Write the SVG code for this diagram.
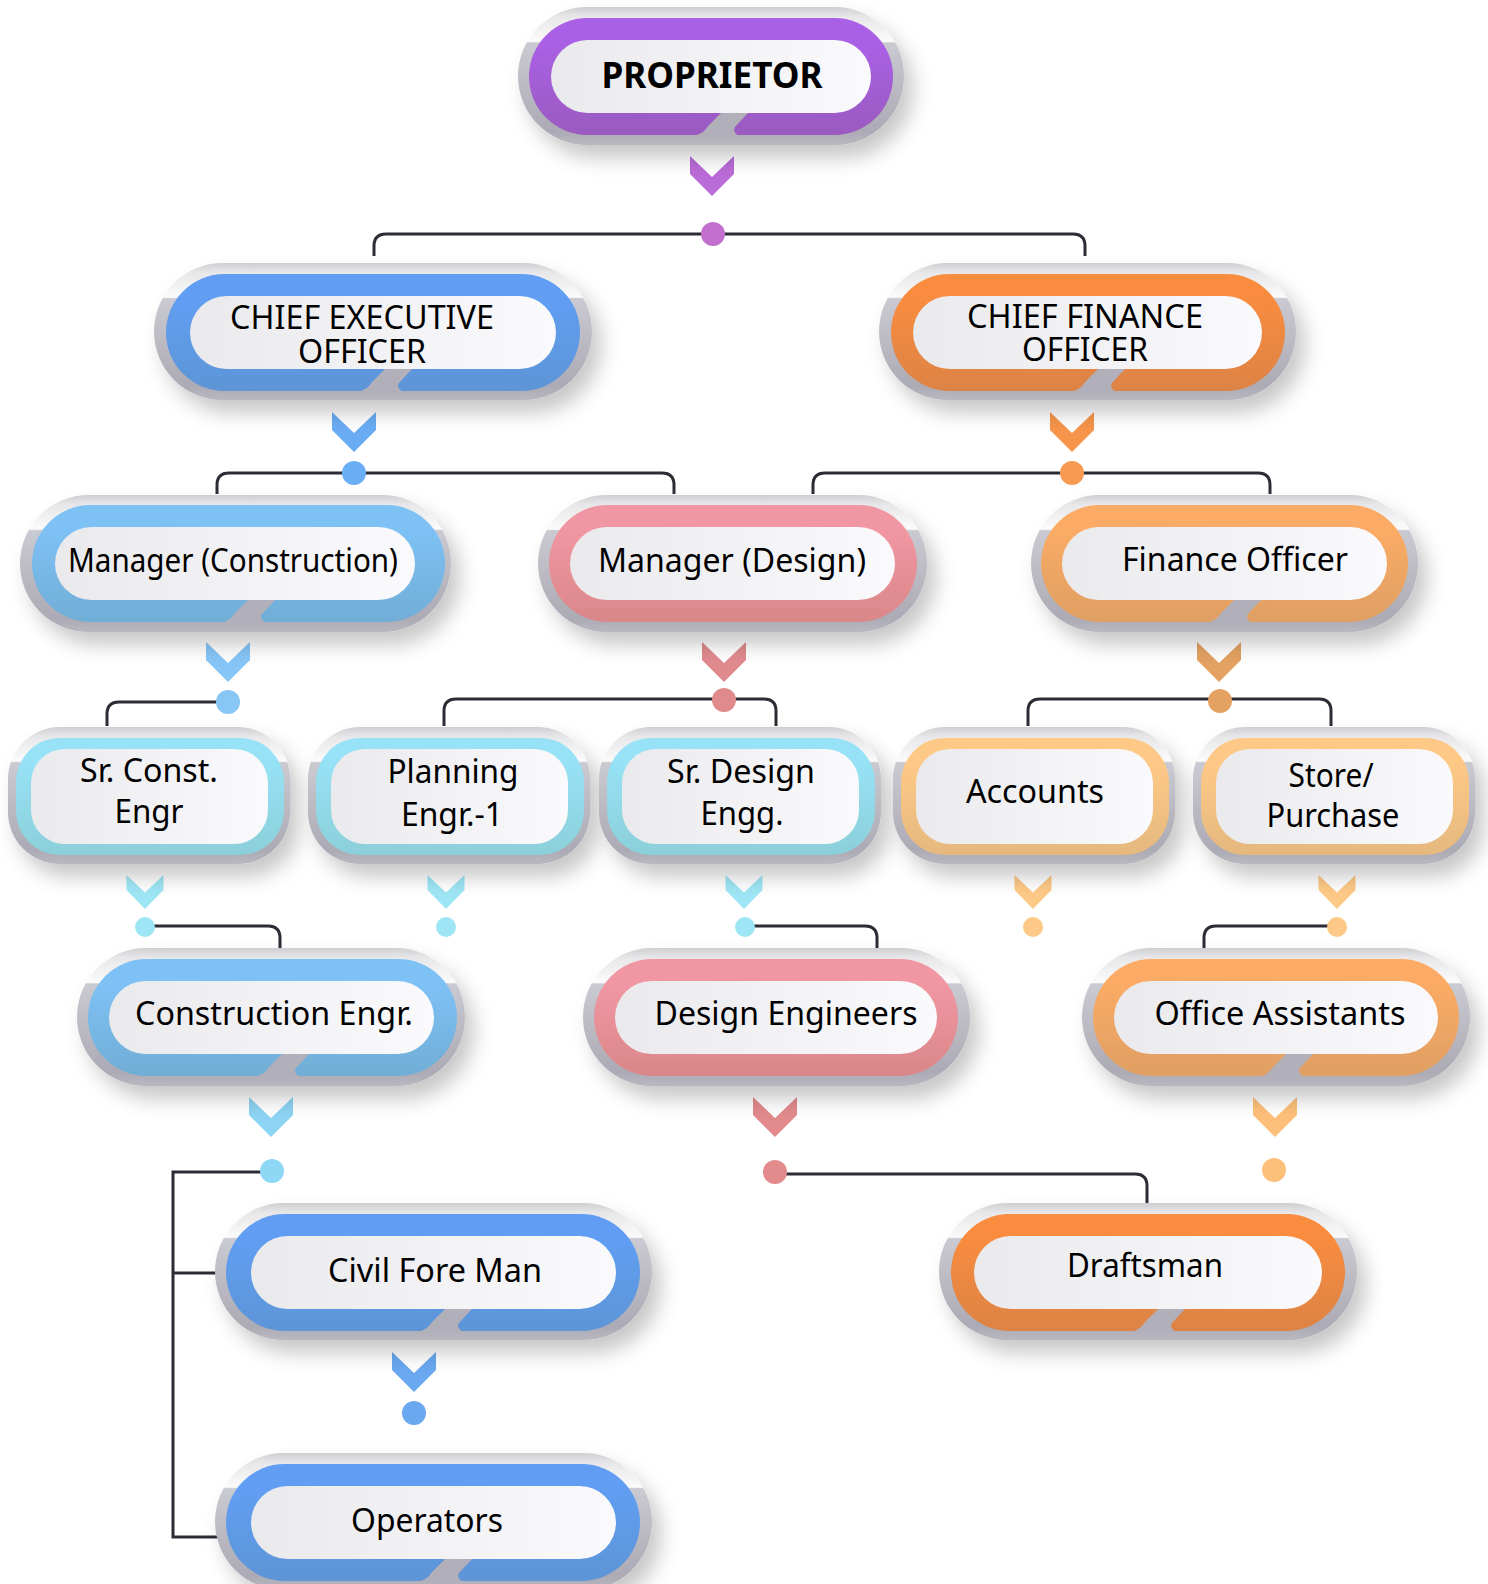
<svg xmlns="http://www.w3.org/2000/svg" xmlns:xlink="http://www.w3.org/1999/xlink" width="1488" height="1584" viewBox="0 0 1488 1584">
<defs>
<style>
.g{fill:url(#gGray);filter:url(#sh)}
.w{fill:url(#gW)}
.t{font-family:'Noto Sans','Open Sans','DejaVu Sans',sans-serif;font-size:33px;fill:#000;text-anchor:middle}
.t4{font-size:32px}
.b{font-weight:bold;font-size:35px}
.ln{fill:none;stroke:#2c2c36;stroke-width:3}
.nt{fill:#b1afb9}
</style>
<filter id="sh" x="-20%" y="-30%" width="145%" height="175%">
<feDropShadow dx="9" dy="13" stdDeviation="10" flood-color="#000" flood-opacity="0.22"/>
</filter>
<linearGradient id="gGray" x1="0" y1="0" x2="0" y2="1">
<stop offset="0" stop-color="#cfcfd2"/>
<stop offset="0.07" stop-color="#e7e7e9"/>
<stop offset="0.25" stop-color="#fbfbfb"/>
<stop offset="0.26" stop-color="#cacad2"/>
<stop offset="0.9" stop-color="#acaab4"/>
<stop offset="1" stop-color="#b9b7c0"/>
</linearGradient>
<linearGradient id="gW" x1="0" y1="0" x2="1" y2="0">
<stop offset="0" stop-color="#eaeaed"/>
<stop offset="1" stop-color="#fafafc"/>
</linearGradient>
<linearGradient id="cPurple" x1="0" y1="0" x2="0" y2="1"><stop offset="0.2" stop-color="#aa60e6"/><stop offset="1" stop-color="#9a5abf"/></linearGradient>
<linearGradient id="cBlue" x1="0" y1="0" x2="0" y2="1"><stop offset="0.2" stop-color="#619ef3"/><stop offset="1" stop-color="#5d95d6"/></linearGradient>
<linearGradient id="cOrange" x1="0" y1="0" x2="0" y2="1"><stop offset="0.2" stop-color="#f98c3f"/><stop offset="1" stop-color="#dc8345"/></linearGradient>
<linearGradient id="cLBlue" x1="0" y1="0" x2="0" y2="1"><stop offset="0.2" stop-color="#7ec1f5"/><stop offset="1" stop-color="#71aed6"/></linearGradient>
<linearGradient id="cPink" x1="0" y1="0" x2="0" y2="1"><stop offset="0.2" stop-color="#f197a3"/><stop offset="1" stop-color="#da8789"/></linearGradient>
<linearGradient id="cLOrange" x1="0" y1="0" x2="0" y2="1"><stop offset="0.2" stop-color="#fbab65"/><stop offset="1" stop-color="#df9f63"/></linearGradient>
<linearGradient id="cCyan" x1="0" y1="0" x2="0" y2="1"><stop offset="0.2" stop-color="#97e2f6"/><stop offset="1" stop-color="#8bcfd9"/></linearGradient>
<linearGradient id="cPeach" x1="0" y1="0" x2="0" y2="1"><stop offset="0.2" stop-color="#fec987"/><stop offset="1" stop-color="#e5b87e"/></linearGradient>
<path id="notch" d="M0,0 L27,0 L14,14 Q11,18 17,22.5 L-26,22.5 Q-18,21 -13,13 Z"/>
<path id="chev" d="M-22,0 L0,21 L22,0 L22,18 L0,40 L-22,18 Z"/>
<path id="chevS" d="M-18.5,0 L0,17.5 L18.5,0 L18.5,15 L0,34 L-18.5,15 Z"/>
</defs>
<rect width="1488" height="1584" fill="#ffffff"/>

<g id="connectors">
<path class="ln" d="M374,256 V246 Q374,234 386,234 H1073 Q1085,234 1085,246 V256"/>
<path class="ln" d="M217,494 V485 Q217,473 229,473 H662 Q674,473 674,485 V494"/>
<path class="ln" d="M813,494 V485 Q813,473 825,473 H1258 Q1270,473 1270,485 V494"/>
<path class="ln" d="M107,726 V714 Q107,702 119,702 H228"/>
<path class="ln" d="M444,726 V711 Q444,699 456,699 H764 Q776,699 776,711 V726"/>
<path class="ln" d="M1028,726 V711 Q1028,699 1040,699 H1319 Q1331,699 1331,711 V726"/>
<path class="ln" d="M145,926 H268 Q280,926 280,938 V949"/>
<path class="ln" d="M744,926 H865 Q877,926 877,938 V949"/>
<path class="ln" d="M1337,926 H1216 Q1204,926 1204,938 V949"/>
<path class="ln" d="M272,1172 H173 V1537 H218 M173,1273 H218"/>
<path class="ln" d="M775,1174 H1135 Q1147,1174 1147,1186 V1204"/>
</g>

<g id="markers">
<use href="#chev" x="712" y="156" fill="#bb6bd8"/>
<circle cx="713" cy="234" r="12" fill="#c170cf"/>
<use href="#chev" x="354" y="412" fill="#6aacf4"/>
<circle cx="354" cy="473" r="12" fill="#6aaff5"/>
<use href="#chev" x="1072" y="412" fill="#f7954b"/>
<circle cx="1072" cy="473" r="12" fill="#f89a52"/>
<use href="#chev" x="228" y="642" fill="#86c5f5"/>
<circle cx="228" cy="702" r="12" fill="#88c6f5"/>
<use href="#chev" x="724" y="642" fill="#e08a8e"/>
<circle cx="724" cy="700" r="12" fill="#e08a8e"/>
<use href="#chev" x="1219" y="642" fill="#e4a262"/>
<circle cx="1220" cy="701" r="12" fill="#e4a262"/>
<use href="#chevS" x="145" y="875" fill="#9ee6f5"/>
<circle cx="145" cy="927" r="10" fill="#9ee6f5"/>
<use href="#chevS" x="446" y="875" fill="#9ee6f5"/>
<circle cx="446" cy="927" r="10" fill="#9ee6f5"/>
<use href="#chevS" x="744" y="875" fill="#9ee6f5"/>
<circle cx="745" cy="927" r="10" fill="#9ee6f5"/>
<use href="#chevS" x="1033" y="875" fill="#fdc986"/>
<circle cx="1033" cy="927" r="10" fill="#fdc986"/>
<use href="#chevS" x="1337" y="875" fill="#fdc986"/>
<circle cx="1337" cy="927" r="10" fill="#fdc986"/>
<use href="#chev" x="271" y="1097" fill="#8dd3f3"/>
<circle cx="272" cy="1171" r="12" fill="#8ed8f5"/>
<use href="#chev" x="775" y="1097" fill="#e28a8c"/>
<circle cx="775" cy="1172" r="12" fill="#e28a8c"/>
<use href="#chev" x="1275" y="1097" fill="#fdc07a"/>
<circle cx="1274" cy="1170" r="12" fill="#fdc07a"/>
<use href="#chev" x="414" y="1352" fill="#6aa8f0"/>
<circle cx="414" cy="1413" r="12" fill="#6aa8f0"/>
</g>

<g id="n-proprietor">
<rect class="g" x="518" y="7" width="386" height="138" rx="69"/>
<rect x="529" y="18" width="364" height="117" rx="58.5" fill="url(#cPurple)"/>
<use href="#notch" x="721" y="113" class="nt"/>
<rect class="w" x="551" y="40" width="320" height="73" rx="36.5"/>
<text class="t b" x="712" y="88" textLength="221" lengthAdjust="spacingAndGlyphs">PROPRIETOR</text>
</g>

<g id="n-ceo">
<rect class="g" x="154" y="263" width="438" height="137" rx="68.5"/>
<rect x="166" y="274" width="414" height="117" rx="58.5" fill="url(#cBlue)"/>
<use href="#notch" x="385" y="369" class="nt"/>
<rect class="w" x="190" y="296" width="366" height="73" rx="36.5"/>
<text class="t" x="362" y="329" textLength="264" lengthAdjust="spacingAndGlyphs">CHIEF EXECUTIVE</text>
<text class="t" x="362" y="363" textLength="128" lengthAdjust="spacingAndGlyphs">OFFICER</text>
</g>

<g id="n-cfo">
<rect class="g" x="879" y="263" width="417" height="137" rx="68.5"/>
<rect x="891" y="274" width="394" height="117" rx="58.5" fill="url(#cOrange)"/>
<use href="#notch" x="1098" y="369" class="nt"/>
<rect class="w" x="913" y="296" width="349" height="73" rx="36.5"/>
<text class="t" x="1085" y="328" textLength="236" lengthAdjust="spacingAndGlyphs">CHIEF FINANCE</text>
<text class="t" x="1085" y="361" textLength="126" lengthAdjust="spacingAndGlyphs">OFFICER</text>
</g>

<g id="n-mgr-construction">
<rect class="g" x="20" y="495" width="431" height="137" rx="68.5"/>
<rect x="32" y="505" width="413" height="117" rx="58.5" fill="url(#cLBlue)"/>
<use href="#notch" x="248" y="600" class="nt"/>
<rect class="w" x="55" y="527" width="360" height="73" rx="36.5"/>
<text class="t" x="233" y="572" textLength="330" lengthAdjust="spacingAndGlyphs">Manager (Construction)</text>
</g>

<g id="n-mgr-design">
<rect class="g" x="538" y="495" width="389" height="137" rx="68.5"/>
<rect x="549" y="505" width="368" height="117" rx="58.5" fill="url(#cPink)"/>
<rect class="w" x="570" y="527" width="325" height="73" rx="36.5"/>
<text class="t" x="732" y="572" textLength="268" lengthAdjust="spacingAndGlyphs">Manager (Design)</text>
</g>

<g id="n-finance-officer">
<rect class="g" x="1031" y="495" width="387" height="137" rx="68.5"/>
<rect x="1041" y="505" width="367" height="117" rx="58.5" fill="url(#cLOrange)"/>
<use href="#notch" x="1234" y="600" class="nt"/>
<rect class="w" x="1062" y="527" width="325" height="73" rx="36.5"/>
<text class="t" x="1235" y="571" textLength="226" lengthAdjust="spacingAndGlyphs">Finance Officer</text>
</g>

<g id="n-sr-const">
<rect class="g" x="8" y="727" width="282" height="137" rx="52"/>
<rect x="16" y="738" width="268" height="117" rx="44" fill="url(#cCyan)"/>
<rect class="w" x="31" y="749" width="237" height="95" rx="34"/>
<text class="t t4" x="149" y="782" textLength="138" lengthAdjust="spacingAndGlyphs">Sr. Const.</text>
<text class="t t4" x="149" y="823" textLength="69" lengthAdjust="spacingAndGlyphs">Engr</text>
</g>

<g id="n-planning">
<rect class="g" x="308" y="727" width="282" height="137" rx="52"/>
<rect x="316" y="738" width="268" height="117" rx="44" fill="url(#cCyan)"/>
<rect class="w" x="331" y="749" width="237" height="95" rx="34"/>
<text class="t t4" x="453" y="783" textLength="131" lengthAdjust="spacingAndGlyphs">Planning</text>
<text class="t t4" x="452" y="826" textLength="102" lengthAdjust="spacingAndGlyphs">Engr.-1</text>
</g>

<g id="n-sr-design">
<rect class="g" x="599" y="727" width="282" height="137" rx="52"/>
<rect x="607" y="738" width="268" height="117" rx="44" fill="url(#cCyan)"/>
<rect class="w" x="622" y="749" width="237" height="95" rx="34"/>
<text class="t t4" x="741" y="783" textLength="148" lengthAdjust="spacingAndGlyphs">Sr. Design</text>
<text class="t t4" x="742" y="825" textLength="83" lengthAdjust="spacingAndGlyphs">Engg.</text>
</g>

<g id="n-accounts">
<rect class="g" x="893" y="727" width="282" height="137" rx="52"/>
<rect x="901" y="738" width="268" height="117" rx="44" fill="url(#cPeach)"/>
<rect class="w" x="916" y="749" width="237" height="95" rx="34"/>
<text class="t t4" x="1035" y="803" textLength="138" lengthAdjust="spacingAndGlyphs">Accounts</text>
</g>

<g id="n-store">
<rect class="g" x="1193" y="727" width="282" height="137" rx="52"/>
<rect x="1201" y="738" width="268" height="117" rx="44" fill="url(#cPeach)"/>
<rect class="w" x="1216" y="749" width="237" height="95" rx="34"/>
<text class="t t4" x="1331" y="787" textLength="85" lengthAdjust="spacingAndGlyphs">Store/</text>
<text class="t t4" x="1333" y="827" textLength="133" lengthAdjust="spacingAndGlyphs">Purchase</text>
</g>

<g id="n-construction-engr">
<rect class="g" x="77" y="948" width="388" height="138" rx="69"/>
<rect x="88" y="959" width="369" height="117" rx="58.5" fill="url(#cLBlue)"/>
<use href="#notch" x="282" y="1054" class="nt"/>
<rect class="w" x="109" y="981" width="325" height="73" rx="36.5"/>
<text class="t" x="274" y="1025" textLength="278" lengthAdjust="spacingAndGlyphs">Construction Engr.</text>
</g>

<g id="n-design-engineers">
<rect class="g" x="583" y="948" width="387" height="138" rx="69"/>
<rect x="594" y="959" width="364" height="117" rx="58.5" fill="url(#cPink)"/>
<rect class="w" x="615" y="981" width="322" height="73" rx="36.5"/>
<text class="t" x="786" y="1025" textLength="263" lengthAdjust="spacingAndGlyphs">Design Engineers</text>
</g>

<g id="n-office-assistants">
<rect class="g" x="1082" y="948" width="388" height="138" rx="69"/>
<rect x="1093" y="959" width="366" height="117" rx="58.5" fill="url(#cLOrange)"/>
<use href="#notch" x="1286" y="1054" class="nt"/>
<rect class="w" x="1114" y="981" width="324" height="73" rx="36.5"/>
<text class="t" x="1280" y="1025" textLength="251" lengthAdjust="spacingAndGlyphs">Office Assistants</text>
</g>

<g id="n-civil-fore-man">
<rect class="g" x="215" y="1203" width="437" height="137" rx="68.5"/>
<rect x="226" y="1214" width="414" height="117" rx="58.5" fill="url(#cBlue)"/>
<use href="#notch" x="445" y="1309" class="nt"/>
<rect class="w" x="251" y="1236" width="365" height="73" rx="36.5"/>
<text class="t" x="435" y="1282" textLength="214" lengthAdjust="spacingAndGlyphs">Civil Fore Man</text>
</g>

<g id="n-draftsman">
<rect class="g" x="939" y="1203" width="418" height="137" rx="68.5"/>
<rect x="951" y="1214" width="394" height="117" rx="58.5" fill="url(#cOrange)"/>
<use href="#notch" x="1158" y="1309" class="nt"/>
<rect class="w" x="974" y="1236" width="348" height="73" rx="36.5"/>
<text class="t" x="1145" y="1277" textLength="156" lengthAdjust="spacingAndGlyphs">Draftsman</text>
</g>

<g id="n-operators">
<rect class="g" x="215" y="1453" width="437" height="137" rx="68.5"/>
<rect x="226" y="1464" width="414" height="117" rx="58.5" fill="url(#cBlue)"/>
<use href="#notch" x="445" y="1559" class="nt"/>
<rect class="w" x="251" y="1486" width="365" height="73" rx="36.5"/>
<text class="t" x="427" y="1532" textLength="152" lengthAdjust="spacingAndGlyphs">Operators</text>
</g>
</svg>
